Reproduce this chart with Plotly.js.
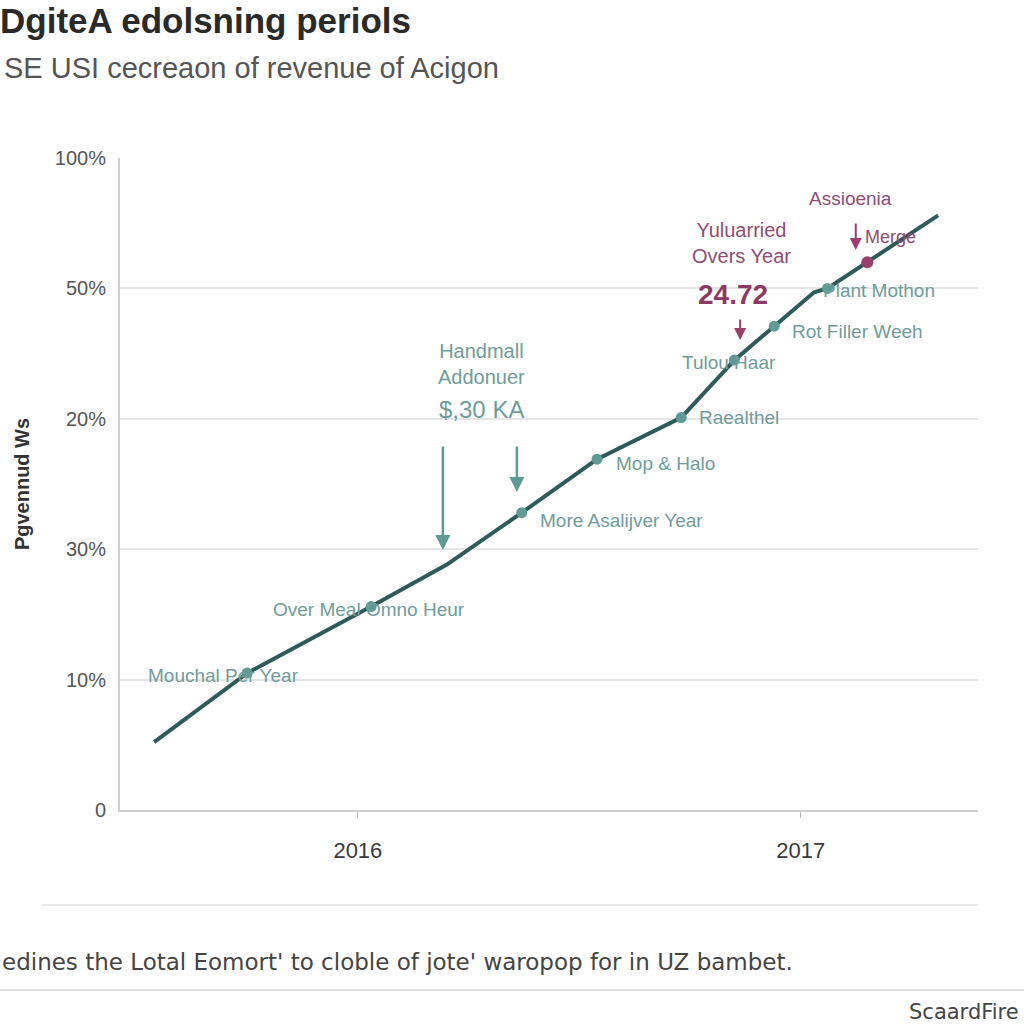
<!DOCTYPE html>
<html><head><meta charset="utf-8">
<script src="https://cdn.plot.ly/plotly-3.0.1.min.js"></script>
<style>html,body{margin:0;padding:0;background:#fff}#chart{width:1024px;height:1024px}</style>
</head><body><div id="chart"></div>
<script>
// Line values (decimal year, position on the y index scale)
const years = [2015.54, 2015.75, 2016.03, 2016.20, 2016.37, 2016.54, 2016.73, 2016.85, 2016.94, 2017.03, 2017.06, 2017.15, 2017.31];
const levels = [0.52, 1.05, 1.56, 1.88, 2.28, 2.69, 3.01, 3.45, 3.71, 3.97, 4.00, 4.20, 4.56];
// Marked points
const markIdx = [1, 2, 4, 5, 6, 7, 8, 10];
const markLabels = ["Mouchal Per Year", "Over Meal Omno Heur", "More Asalijver Year", "Mop & Halo", "Raealthel", "Tulou Haar", "Rot Filler Weeh", "Plant Mothon"];
const highlightIdx = 11;
const highlightLabel = "Merge";
// Axis ticks
const yTickVals = [0, 1, 2, 3, 4, 5];
const yTickText = ["0", "10%", "30%", "20%", "50%", "100%"];
const xTickVals = [2016, 2017];
const xTickText = ["2016", "2017"];

const teal = "#5f9a94", tealTxt = "#6f9c9a", lineCol = "#2f5a5c", mag = "#9a3f6c", magTxt = "#8e4d74";
const F = "Liberation Sans, Arial, sans-serif";

const traces = [
  {x: years, y: levels, mode: "lines", line: {color: lineCol, width: 4}, hoverinfo: "skip", showlegend: false},
  {x: markIdx.map(i => years[i]), y: markIdx.map(i => levels[i]), mode: "markers",
   marker: {color: teal, size: 11, symbol: "circle"}, showlegend: false},
  {x: [years[highlightIdx]], y: [levels[highlightIdx]], mode: "markers",
   marker: {color: mag, size: 12}, showlegend: false}
];

// label placements (styling only)
const place = [
  {xa: "center", dx: -24, dy: -2},
  {xa: "center", dx: -2, dy: -3},
  {xa: "left", dx: 16, dy: -8},
  {xa: "left", dx: 17, dy: -4},
  {xa: "left", dx: 16, dy: 0},
  {xa: "center", dx: -5, dy: -2},
  {xa: "left", dx: 16, dy: -5},
  {xa: "left", dx: -6, dy: -2}
];
const ann = [];
markIdx.forEach((i, k) => {
  ann.push({x: years[i], y: levels[i], xref: "x", yref: "y", text: markLabels[k], showarrow: false,
    xanchor: place[k].xa, yanchor: "middle", xshift: place[k].dx, yshift: place[k].dy,
    font: {family: F, size: 19, color: tealTxt}});
});
ann.push({x: years[highlightIdx], y: levels[highlightIdx], xref: "x", yref: "y", text: highlightLabel, showarrow: false,
  xanchor: "left", yanchor: "middle", xshift: -4, yshift: 25, font: {family: F, size: 18, color: magTxt}});

// callouts
ann.push({x: 2016.280, y: 3.42, xref: "x", yref: "y", text: "Handmall<br>Addonuer", showarrow: false,
  font: {family: F, size: 20, color: tealTxt}, align: "center"});
ann.push({x: 2016.280, y: 3.075, xref: "x", yref: "y", text: "$,30 KA", showarrow: false,
  font: {family: F, size: 24, color: tealTxt}});
ann.push({x: 2016.192, y: 1.994, xref: "x", yref: "y", text: "", showarrow: true, ax: 0, ay: -105,
  arrowcolor: teal, arrowwidth: 2.5, arrowhead: 2, arrowsize: 1.2});
ann.push({x: 2016.359, y: 2.439, xref: "x", yref: "y", text: "", showarrow: true, ax: 0, ay: -47,
  arrowcolor: teal, arrowwidth: 2.5, arrowhead: 2, arrowsize: 1.2});
ann.push({x: 2016.865, y: 4.348, xref: "x", yref: "y", text: "Yuluarried<br>Overs Year", showarrow: false,
  font: {family: F, size: 20, color: magTxt}, align: "center"});
ann.push({x: 2016.847, y: 3.95, xref: "x", yref: "y", text: "<b>24.72</b>", showarrow: false,
  font: {family: F, size: 28, color: "#8a3a64"}});
ann.push({x: 2016.863, y: 3.604, xref: "x", yref: "y", text: "", showarrow: true, ax: 0, ay: -22,
  arrowcolor: mag, arrowwidth: 2, arrowhead: 2, arrowsize: 1.2});
ann.push({x: 2017.113, y: 4.686, xref: "x", yref: "y", text: "Assioenia", showarrow: false,
  font: {family: F, size: 19, color: magTxt}});
ann.push({x: 2017.124, y: 4.294, xref: "x", yref: "y", text: "", showarrow: true, ax: 0, ay: -28,
  arrowcolor: mag, arrowwidth: 2, arrowhead: 2, arrowsize: 1.2});

// subtitle, footer
ann.push({x: -0.138, y: 1.138, xref: "paper", yref: "paper", xanchor: "left", yanchor: "middle",
  text: "SE USI cecreaon of revenue of Acigon", showarrow: false, font: {family: F, size: 29, color: "#555"}});
ann.push({x: -0.14, y: -0.233, xref: "paper", yref: "paper", xanchor: "left", yanchor: "middle",
  text: "edines the Lotal Eomort' to cloble of jote' waropop for in UZ bambet.", showarrow: false,
  font: {family: "DejaVu Sans, sans-serif", size: 23, color: "#444"}});
ann.push({x: 1.05, y: -0.31, xref: "paper", yref: "paper", xanchor: "right", yanchor: "middle",
  text: "ScaardFire", showarrow: false,
  font: {family: "DejaVu Sans, sans-serif", size: 21, color: "#444"}});

const layout = {
  width: 1024, height: 1024,
  paper_bgcolor: "#fff", plot_bgcolor: "#fff",
  margin: {l: 120, r: 46, t: 158, b: 214},
  title: {text: "DgiteA edolsning periols", x: 0, xref: "container", xanchor: "left",
    y: 0.980, yref: "container", yanchor: "middle", pad: {l: 0},
    font: {family: F, size: 35, color: "#2a2a2a", weight: 600}},
  xaxis: {range: [2015.463, 2017.40], tickvals: xTickVals, ticktext: xTickText, showgrid: false,
    zeroline: false, showline: true, linecolor: "#cfcfcf", linewidth: 2, ticks: "outside", ticklen: 6,
    tickcolor: "#bbb", tickfont: {family: F, size: 22, color: "#3a3a3a"}, ticklabelstandoff: 14},
  yaxis: {range: [0, 5], tickvals: yTickVals, ticktext: yTickText, showgrid: true, gridcolor: "#e6e6e6",
    gridwidth: 2, zeroline: false, showline: true, linecolor: "#cfcfcf", linewidth: 2,
    tickfont: {family: F, size: 20, color: "#555"}, ticklabelstandoff: 8,
    title: {text: "<b>Pgvennud Ws</b>", font: {family: F, size: 20, color: "#333"}, standoff: 20}},
  shapes: [
    {type: "line", xref: "paper", yref: "paper", x0: -0.091, x1: 1.0, y0: -0.1457, y1: -0.1457, line: {color: "#e8e8e8", width: 2}},
    {type: "line", xref: "paper", yref: "paper", x0: -0.14, x1: 1.054, y0: -0.276, y1: -0.276, line: {color: "#e0e0e0", width: 2}}
  ],
  annotations: ann,
  showlegend: false
};
Plotly.newPlot("chart", traces, layout, {staticPlot: true});
</script></body></html>
